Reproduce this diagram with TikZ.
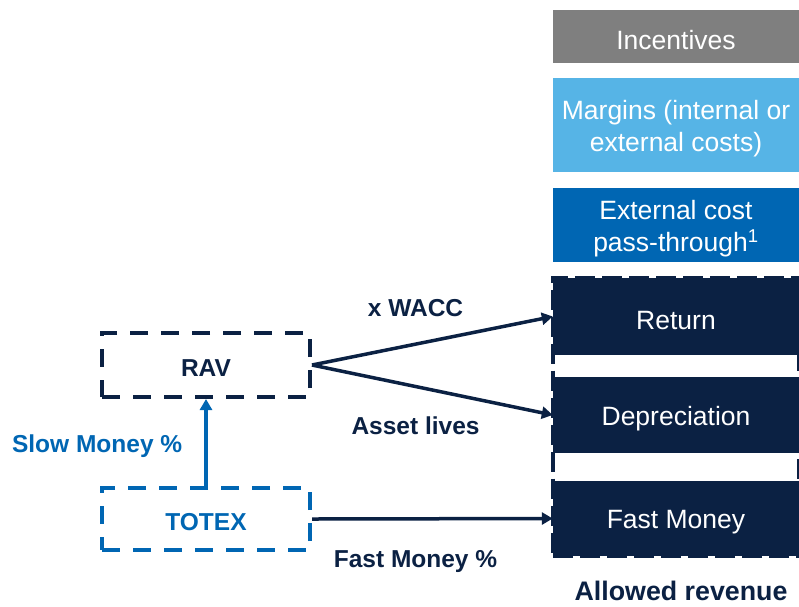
\documentclass[tikz,border=0pt]{standalone}
\usepackage{fontspec}
\setmainfont{Liberation Sans}
\usetikzlibrary{arrows.meta,positioning,fit}
\definecolor{navy}{HTML}{0B2143}
\definecolor{ofblue}{HTML}{0066B3}
\definecolor{skyblue}{HTML}{56B4E6}
\definecolor{midgrey}{HTML}{7F7F7F}

\begin{document}
\begin{tikzpicture}[x=1pt, y=-1pt,
  every node/.style={font=\fontsize{26.5}{32}\selectfont, inner sep=0pt},
  block/.style={fill=#1, minimum width=246pt},
  boxtxt/.style={text=white, align=center, yshift=-4pt},
  dashbox/.style={draw=#1, line width=4pt, dash pattern=on 18pt off 13pt, minimum width=208pt, text=#1, text height=23pt, text depth=0pt, font=\fontsize{24.5}{28}\selectfont\bfseries},
  lbl/.style={text=navy, font=\fontsize{24.5}{28}\selectfont\bfseries},
  link/.style={line width=3.5pt, -{Triangle[length=11pt, width=12pt]}}]
			\useasboundingbox (0,0) rectangle (799,606);
			
			% revenue building blocks
			\node[block=midgrey, minimum height=53pt, label={[boxtxt]center:Incentives}] (inc) at (676,36.5) {};
			\node[block=skyblue, minimum height=94pt, label={[boxtxt]center:Margins (internal or\\external costs)}] (marg) at (676,125) {};
			\node[block=ofblue, minimum height=74pt, label={[boxtxt]center:External cost\\pass-through\textsuperscript{1}}] (ext) at (676,225) {};
			\node[block=navy, minimum height=77pt, label={[boxtxt]center:Return}] (ret) at (676,316.5) {};
			\node[block=navy, minimum height=76pt, label={[boxtxt]center:Depreciation}] (dep) at (676,415) {};
			\node[block=navy, minimum height=75pt, label={[boxtxt]center:Fast Money}] (fast) at (676,518.5) {};
			\node[draw=navy, line width=4pt, dash pattern=on 20pt off 7pt, fit=(ret)(fast)] (allowed) {};
			\node[lbl, font=\fontsize{26.8}{32}\selectfont\bfseries, below=23pt of allowed, xshift=5pt] (allowedlbl) {Allowed revenue};
			
			% inputs
			\node[dashbox=navy, minimum height=64pt] (rav) at (206,365) {RAV};
			\node[dashbox=ofblue, minimum height=62pt] (totex) at (206,519) {TOTEX};
			
			\draw[link, navy] (rav.east) -- (ret.west) node[lbl, pos=0.43, above=26pt] {x WACC};
			\draw[link, navy] (rav.east) -- (dep.west) node[lbl, pos=0.43, below=28.5pt] {Asset lives};
			\draw[link, navy] (totex.east) -- (fast.west) node[lbl, pos=0.43, below=30pt] {Fast Money \%};
			\draw[link, ofblue] (totex.north) -- (rav.south) node[lbl, text=ofblue, midway, left=22pt, yshift=-4pt] {Slow Money \%};
		\end{tikzpicture}
\end{document}
